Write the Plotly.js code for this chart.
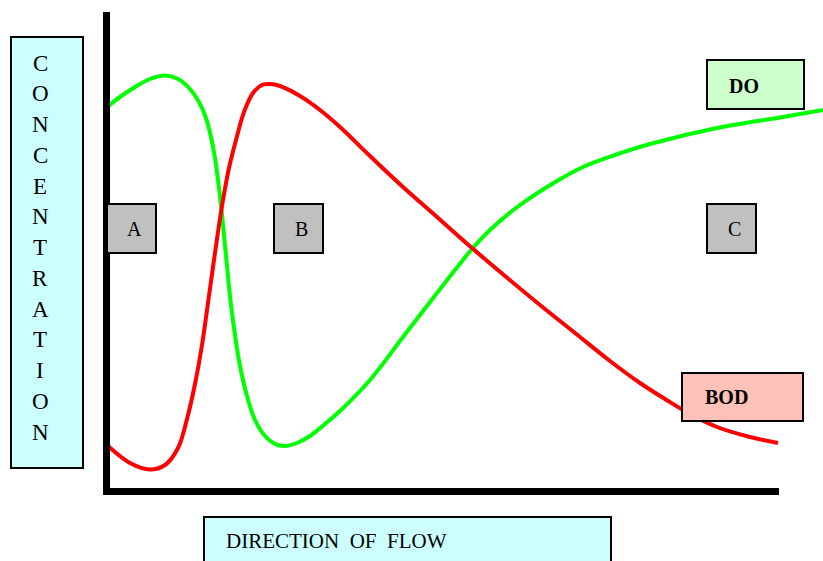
<!DOCTYPE html>
<html>
<head>
<meta charset="utf-8">
<script src="https://cdn.plot.ly/plotly-3.0.1.min.js"></script>
<style>html,body{margin:0;padding:0;background:#fff;}#chart{width:823px;height:561px;}</style>
</head>
<body>
<div id="chart"></div>
<script>
// Distance along the flow (from the vertical axis) and concentration (above the horizontal axis)
const doDistance = [0,13,28,43,58,71,83,92,99,104,108,111,114,117,120,123,127,133,140,148,158,168,178,190,203,218,233,263,296,330,348,365,383,413,450,476,508,543,610,676,716];
const doConc     = [385,395,405,413,416.5,413,403,390,374,355,334,312,287,257,226,196,164,126,96,72,56,48,46,49,56,68,81,112,155,199,222,243,262,287,311,325,337,348,364,375,382];
const bodDistance = [0,23,43,58,71,80,88,95,101,106,111,116,122,129,137,146,155,163,173,193,213,233,263,296,330,365,398,433,468,503,533,558,583,610,643,671];
const bodConc     = [47,29,22.5,27,44,73,108,147,189,225,260,292,324,352,380,399,407,408,406,396,382,365,336,305,275,244,216,187,159,131,109,93,78,65,55,49];
const yTitleLetters = "CONCENTRATION".split("");
const zoneLabels = ["A", "B", "C"];
const seriesLabels = ["DO", "BOD"];
const xTitle = "DIRECTION\u00a0\u00a0OF\u00a0\u00a0FLOW";

// pixel helpers for layout furniture
const X = p => p - 107;
const Y = p => 492 - p;
const font = "Liberation Serif, Times New Roman, serif";

const traces = [
  {x: doDistance, y: doConc, mode: "lines", name: "DO", line: {color: "#00ff00", width: 4, shape: "spline", smoothing: 1}, hoverinfo: "skip"},
  {x: bodDistance, y: bodConc, mode: "lines", name: "BOD", line: {color: "#ff0000", width: 4, shape: "spline", smoothing: 1}, hoverinfo: "skip"}
];

function rect(x0, y0, x1, y1, fill, lw) {
  return {type: "rect", xref: "x", yref: "y", x0: X(x0), x1: X(x1), y0: Y(y0), y1: Y(y1),
          fillcolor: fill, line: {color: "#000", width: lw}, layer: "above"};
}
const shapes = [
  {type: "rect", xref: "x", yref: "y", x0: X(103), x1: X(110), y0: Y(12), y1: Y(495), fillcolor: "#000", line: {width: 0}, layer: "above"},
  {type: "rect", xref: "x", yref: "y", x0: X(103), x1: X(779), y0: Y(488), y1: Y(495), fillcolor: "#000", line: {width: 0}, layer: "above"},
  rect(11, 37, 83, 468, "#ccffff", 2),
  rect(107, 204, 156, 253, "#c0c0c0", 2),
  rect(274, 204, 323, 253, "#c0c0c0", 2),
  rect(707, 204, 756, 253, "#c0c0c0", 2),
  rect(707, 60, 804, 109, "#ccffcc", 2),
  rect(682, 373, 803, 421, "#ffc2b8", 2),
  rect(204, 517, 611, 580, "#ccffff", 2)
];

const annotations = [];
yTitleLetters.forEach((ch, i) => {
  annotations.push({x: X(40), y: Y(63 + i * 30.75), xref: "x", yref: "y", text: ch, showarrow: false,
    xanchor: "center", yanchor: "middle", font: {family: font, size: 23, color: "#000"}});
});
const zoneX = [134.5, 301.5, 734];
zoneLabels.forEach((t, i) => {
  annotations.push({x: X(zoneX[i]), y: Y(229), xref: "x", yref: "y", text: t, showarrow: false,
    xanchor: "center", yanchor: "middle", font: {family: font, size: 20, color: "#000"}});
});
const serX = [743.5, 726.5], serY = [85.5, 396.5];
seriesLabels.forEach((t, i) => {
  annotations.push({x: X(serX[i]), y: Y(serY[i]), xref: "x", yref: "y", text: "<b>" + t + "</b>", showarrow: false,
    xanchor: "center", yanchor: "middle", font: {family: font, size: 20, color: "#000"}});
});
annotations.push({x: X(224), y: Y(541), xref: "x", yref: "y", text: xTitle, showarrow: false,
  xanchor: "left", yanchor: "middle", font: {family: font, size: 21, color: "#000"}});

const layout = {
  width: 823, height: 561,
  margin: {l: 0, r: 0, t: 0, b: 0, pad: 0},
  paper_bgcolor: "#fff", plot_bgcolor: "#fff",
  showlegend: false,
  xaxis: {range: [X(0), X(823)], visible: false, fixedrange: true},
  yaxis: {range: [Y(561), Y(0)], visible: false, fixedrange: true},
  shapes: shapes,
  annotations: annotations
};
Plotly.newPlot("chart", traces, layout, {staticPlot: true, displayModeBar: false});
</script>
</body>
</html>
